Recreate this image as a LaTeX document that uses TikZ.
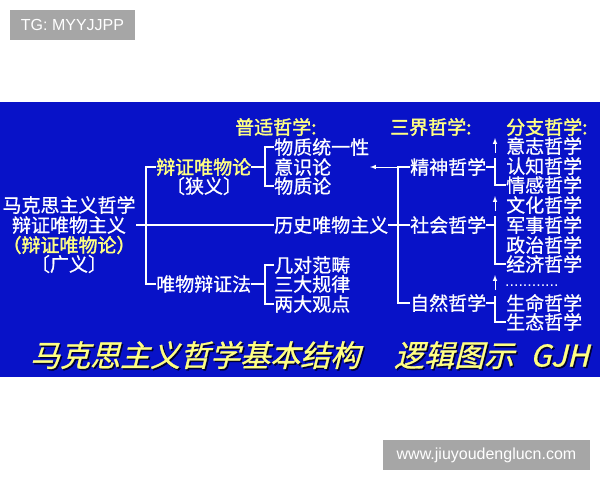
\documentclass[tikz,border=0pt]{standalone}
\usepackage{fontspec}
\setsansfont{Liberation Sans}
\newfontfamily\cjk[FakeBold=0.8]{Noto Sans CJK SC}
\newfontfamily\cjkhead[FakeBold=1.8]{Noto Sans CJK SC}
\newfontfamily\cjkslant[FakeSlant=0.25,FakeBold=1]{Noto Sans CJK SC}
\usetikzlibrary{arrows}
\definecolor{panel}{RGB}{8,18,200}
\definecolor{hl}{RGB}{255,255,130}
\definecolor{tagbg}{RGB}{166,166,166}
\definecolor{shade}{RGB}{0,0,50}

\begin{document}
\begin{tikzpicture}[x=1pt,y=-1pt,
  txt/.style={anchor=west,inner sep=0pt,text=white,font=\cjk\fontsize{19}{19}\selectfont},
  head/.style={txt,text=hl,font=\cjkhead\fontsize{19}{19}\selectfont},
  wire/.style={draw=white,line width=1.2pt},
  arr/.style={draw=white,line width=1pt,->,>=latex},
  tag/.style={fill=tagbg,text=white,inner sep=0pt,minimum height=30pt,font=\sffamily\fontsize{16}{16}\selectfont},
  ttl/.style={anchor=west,inner sep=0pt,font=\cjkslant\fontsize{30}{30}\selectfont}]
\useasboundingbox (0,0) rectangle (600,480);
\fill[panel] (0,102) rectangle (600,377);
\node[tag,minimum width=125pt] (tg) at (72.5,25) {TG: MYYJJPP};
\node[tag,minimum width=207pt] (site) at (486.5,455) {www.jiuyoudenglucn.com};

\node[txt,anchor=center] (mkphil) at (69,205) {马克思主义哲学};
\node[txt,anchor=center] (dialmat) at (69,225) {辩证唯物主义};
\node[head,anchor=center] (broad) at (69,245) {（辩证唯物论）};
\node[txt,anchor=center] (broadtag) at (69,264) {〔广义〕};

\node[head] (dialmatn) at (156,167) {辩证唯物论};
\node[txt,anchor=center] (narrow) at (204,186) {〔狭义〕};
\node[txt] (matdial) at (156,284) {唯物辩证法};

\node[head] (common) at (235,127) {普适哲学:};
\node[txt] (unity) at (274,147) {物质统一性};
\node[txt] (consc) at (274,167) {意识论};
\node[txt] (matter) at (274,186) {物质论};
\node[txt] (hist) at (274,225) {历史唯物主义};
\node[txt] (cats) at (274,265) {几对范畴};
\node[txt] (laws) at (274,284) {三大规律};
\node[txt] (views) at (274,304) {两大观点};

\node[head] (three) at (390,127) {三界哲学:};
\node[txt] (spirit) at (410,167) {精神哲学};
\node[txt] (social) at (410,225) {社会哲学};
\node[txt] (nature) at (410,303) {自然哲学};

\node[head] (branch) at (506,127) {分支哲学:};
\node[txt] (will) at (506,146) {意志哲学};
\node[txt] (cogn) at (506,166) {认知哲学};
\node[txt] (emot) at (506,185) {情感哲学};
\node[txt] (cult) at (506,205) {文化哲学};
\node[txt] (mil) at (506,225) {军事哲学};
\node[txt] (pol) at (506,245) {政治哲学};
\node[txt] (econ) at (506,264) {经济哲学};
\node[txt,font=\sffamily\fontsize{16}{16}\selectfont] (etc) at (505,286) {............};
\node[txt] (life) at (506,303) {生命哲学};
\node[txt] (eco) at (506,322) {生态哲学};

\coordinate (b1) at (265,167);
\coordinate (b2) at (265,284);
\coordinate (b3) at (398,225);
\coordinate (tip) at (370,167);
\coordinate (s1) at (495,158);
\coordinate (s2) at (495,216);
\coordinate (s3) at (495,296);
\coordinate (u1) at (495,153);
\coordinate (a1) at (495,138);
\coordinate (u2) at (495,211);
\coordinate (a2) at (495,196);
\coordinate (u3) at (495,290);
\coordinate (a3) at (495,275);

\draw[wire,shorten <=10pt] (dialmat.east) -- (hist.west);
\draw[wire] (dialmatn.west) -- ++(-10,0) |- (matdial.west);
\draw[wire] (dialmatn.east) -- (b1);
\draw[wire] (unity.west) -| (b1) |- (matter.west);
\draw[wire] (matdial.east) -- (b2);
\draw[wire] (cats.west) -| (b2) |- (views.west);
\draw[wire] (hist.east) -- (social.west);
\draw[wire] (spirit.west) -| (b3) |- (nature.west);
\draw[arr] (spirit.west) -- (tip);
\draw[wire] (spirit.east) -- (spirit.east -| s1);
\draw[wire] (s1) |- (emot.west);
\draw[wire] (social.east) -- (social.east -| s2);
\draw[wire] (s2) |- (econ.west);
\draw[wire] (nature.east) -- (nature.east -| s3);
\draw[wire] (s3) |- (eco.west);
\draw[arr] (u1) -- (a1);
\draw[arr] (u2) -- (a2);
\draw[arr] (u3) -- (a3);

\node[ttl,text=shade] (ttlshadow) at (31.5,356.5) {马克思主义哲学基本结构\hspace{34pt}逻辑图示\hspace{16pt}GJH};
\node[ttl,text=hl] (ttl) at (30,355) {马克思主义哲学基本结构\hspace{34pt}逻辑图示\hspace{16pt}GJH};
\end{tikzpicture}
\end{document}
